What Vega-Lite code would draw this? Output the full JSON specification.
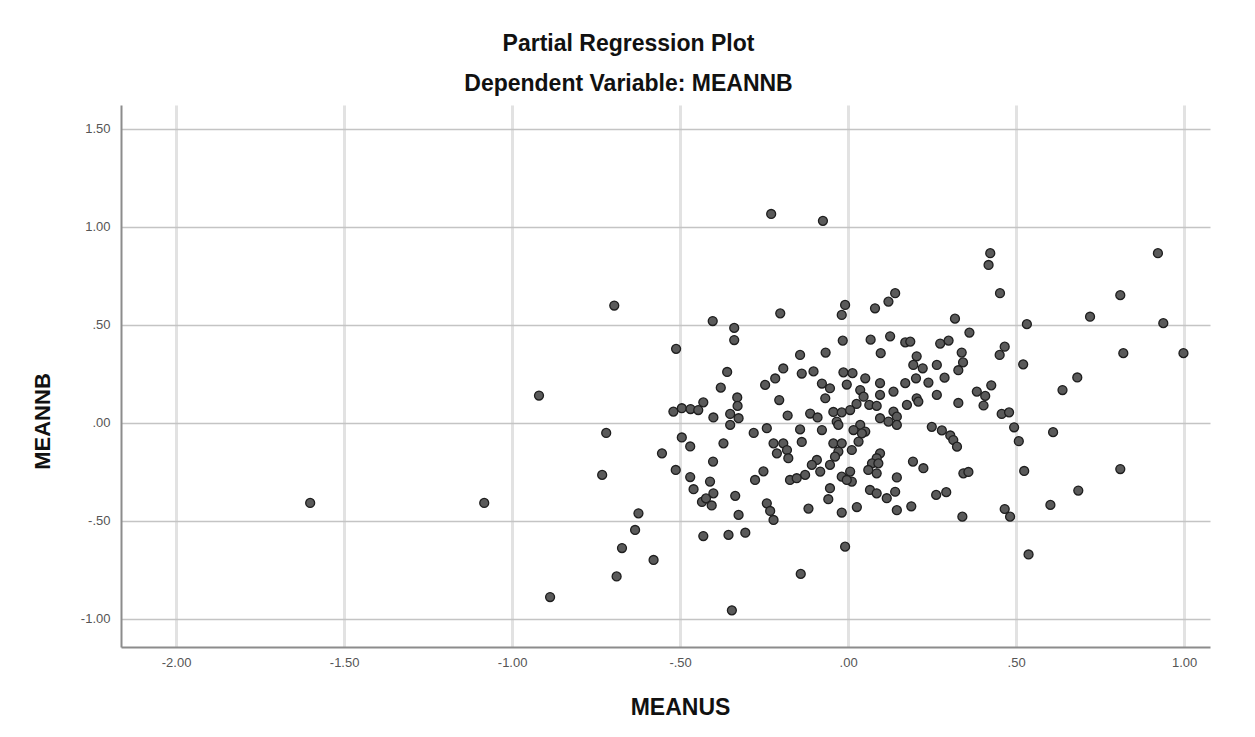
{
  "$schema": "https://vega.github.io/schema/vega-lite/v6.json",
  "width": 1089,
  "height": 542,
  "autosize": "none",
  "padding": {"left": 121, "top": 105, "right": 45, "bottom": 90},
  "background": "white",
  "title": {
    "text": "Partial Regression Plot",
    "subtitle": "Dependent Variable: MEANNB",
    "anchor": "middle",
    "dx": -37,
    "offset": 9,
    "font": "Liberation Sans",
    "fontSize": 23,
    "fontWeight": "bold",
    "color": "#111111",
    "subtitleFont": "Liberation Sans",
    "subtitleFontSize": 23,
    "subtitleFontWeight": "bold",
    "subtitleColor": "#111111",
    "subtitlePadding": 17
  },
  "config": {
    "view": {"stroke": null},
    "axis": {
      "labelFont": "Liberation Sans",
      "titleFont": "Liberation Sans"
    }
  },
  "data": {
    "values": [
      {"MEANUS": -1.601, "MEANNB": -0.408},
      {"MEANUS": -1.083, "MEANNB": -0.408},
      {"MEANUS": -0.920, "MEANNB": 0.140},
      {"MEANUS": -0.887, "MEANNB": -0.888},
      {"MEANUS": -0.732, "MEANNB": -0.265},
      {"MEANUS": -0.720, "MEANNB": -0.051},
      {"MEANUS": -0.696, "MEANNB": 0.599},
      {"MEANUS": -0.689, "MEANNB": -0.783},
      {"MEANUS": -0.673, "MEANNB": -0.638},
      {"MEANUS": -0.634, "MEANNB": -0.546},
      {"MEANUS": -0.624, "MEANNB": -0.461},
      {"MEANUS": -0.579, "MEANNB": -0.699},
      {"MEANUS": -0.554, "MEANNB": -0.155},
      {"MEANUS": -0.512, "MEANNB": 0.378},
      {"MEANUS": -0.513, "MEANNB": -0.240},
      {"MEANUS": -0.495, "MEANNB": -0.074},
      {"MEANUS": -0.470, "MEANNB": -0.120},
      {"MEANUS": -0.470, "MEANNB": -0.276},
      {"MEANUS": -0.460, "MEANNB": -0.338},
      {"MEANUS": -0.403, "MEANNB": 0.520},
      {"MEANUS": -0.339, "MEANNB": 0.485},
      {"MEANUS": -0.339, "MEANNB": 0.423},
      {"MEANUS": -0.360, "MEANNB": 0.260},
      {"MEANUS": -0.379, "MEANNB": 0.180},
      {"MEANUS": -0.330, "MEANNB": 0.130},
      {"MEANUS": -0.329, "MEANNB": 0.087},
      {"MEANUS": -0.247, "MEANNB": 0.194},
      {"MEANUS": -0.217, "MEANNB": 0.227},
      {"MEANUS": -0.229, "MEANNB": 1.066},
      {"MEANUS": -0.075, "MEANNB": 1.031},
      {"MEANUS": -0.202, "MEANNB": 0.559},
      {"MEANUS": -0.520, "MEANNB": 0.058},
      {"MEANUS": -0.495, "MEANNB": 0.075},
      {"MEANUS": -0.469, "MEANNB": 0.071},
      {"MEANUS": -0.446, "MEANNB": 0.066},
      {"MEANUS": -0.431, "MEANNB": 0.105},
      {"MEANUS": -0.401, "MEANNB": 0.028},
      {"MEANUS": -0.351, "MEANNB": 0.046},
      {"MEANUS": -0.326, "MEANNB": 0.024},
      {"MEANUS": -0.351, "MEANNB": -0.010},
      {"MEANUS": -0.371, "MEANNB": -0.104},
      {"MEANUS": -0.402, "MEANNB": -0.197},
      {"MEANUS": -0.411, "MEANNB": -0.299},
      {"MEANUS": -0.401, "MEANNB": -0.359},
      {"MEANUS": -0.435, "MEANNB": -0.403},
      {"MEANUS": -0.423, "MEANNB": -0.385},
      {"MEANUS": -0.406, "MEANNB": -0.421},
      {"MEANUS": -0.336, "MEANNB": -0.372},
      {"MEANUS": -0.277, "MEANNB": -0.291},
      {"MEANUS": -0.252, "MEANNB": -0.247},
      {"MEANUS": -0.242, "MEANNB": -0.410},
      {"MEANUS": -0.232, "MEANNB": -0.449},
      {"MEANUS": -0.222, "MEANNB": -0.495},
      {"MEANUS": -0.326, "MEANNB": -0.469},
      {"MEANUS": -0.431, "MEANNB": -0.577},
      {"MEANUS": -0.356, "MEANNB": -0.571},
      {"MEANUS": -0.306, "MEANNB": -0.560},
      {"MEANUS": -0.346, "MEANNB": -0.956},
      {"MEANUS": -0.281, "MEANNB": -0.051},
      {"MEANUS": -0.242, "MEANNB": -0.027},
      {"MEANUS": -0.222, "MEANNB": -0.104},
      {"MEANUS": -0.212, "MEANNB": -0.155},
      {"MEANUS": -0.205, "MEANNB": 0.117},
      {"MEANUS": -0.193, "MEANNB": 0.278},
      {"MEANUS": -0.143, "MEANNB": 0.347},
      {"MEANUS": -0.067, "MEANNB": 0.359},
      {"MEANUS": -0.138, "MEANNB": 0.252},
      {"MEANUS": -0.103, "MEANNB": 0.263},
      {"MEANUS": -0.078, "MEANNB": 0.201},
      {"MEANUS": -0.054, "MEANNB": 0.177},
      {"MEANUS": -0.068, "MEANNB": 0.126},
      {"MEANUS": -0.016, "MEANNB": 0.420},
      {"MEANUS": -0.009, "MEANNB": 0.602},
      {"MEANUS": -0.019, "MEANNB": 0.551},
      {"MEANUS": -0.014, "MEANNB": 0.258},
      {"MEANUS": 0.013, "MEANNB": 0.254},
      {"MEANUS": 0.051, "MEANNB": 0.228},
      {"MEANUS": -0.004, "MEANNB": 0.196},
      {"MEANUS": 0.036, "MEANNB": 0.168},
      {"MEANUS": 0.046, "MEANNB": 0.134},
      {"MEANUS": 0.025, "MEANNB": 0.097},
      {"MEANUS": 0.063, "MEANNB": 0.092},
      {"MEANUS": 0.085, "MEANNB": 0.087},
      {"MEANUS": -0.180, "MEANNB": 0.038},
      {"MEANUS": -0.113, "MEANNB": 0.048},
      {"MEANUS": -0.091, "MEANNB": 0.028},
      {"MEANUS": -0.044, "MEANNB": 0.056},
      {"MEANUS": -0.019, "MEANNB": 0.054},
      {"MEANUS": 0.006, "MEANNB": 0.066},
      {"MEANUS": -0.078, "MEANNB": -0.036},
      {"MEANUS": -0.034, "MEANNB": 0.007},
      {"MEANUS": -0.029, "MEANNB": -0.010},
      {"MEANUS": 0.036, "MEANNB": -0.010},
      {"MEANUS": 0.051, "MEANNB": -0.044},
      {"MEANUS": 0.016, "MEANNB": -0.036},
      {"MEANUS": -0.143, "MEANNB": -0.033},
      {"MEANUS": -0.138, "MEANNB": -0.097},
      {"MEANUS": -0.193, "MEANNB": -0.104},
      {"MEANUS": -0.182, "MEANNB": -0.138},
      {"MEANUS": -0.178, "MEANNB": -0.180},
      {"MEANUS": -0.044, "MEANNB": -0.104},
      {"MEANUS": -0.019, "MEANNB": -0.104},
      {"MEANUS": -0.029, "MEANNB": -0.146},
      {"MEANUS": -0.039, "MEANNB": -0.172},
      {"MEANUS": 0.011, "MEANNB": -0.138},
      {"MEANUS": 0.031, "MEANNB": -0.095},
      {"MEANUS": 0.041, "MEANNB": -0.053},
      {"MEANUS": -0.093, "MEANNB": -0.189},
      {"MEANUS": -0.108, "MEANNB": -0.214},
      {"MEANUS": -0.083, "MEANNB": -0.248},
      {"MEANUS": -0.054, "MEANNB": -0.214},
      {"MEANUS": -0.128, "MEANNB": -0.265},
      {"MEANUS": -0.173, "MEANNB": -0.291},
      {"MEANUS": -0.153, "MEANNB": -0.282},
      {"MEANUS": -0.019, "MEANNB": -0.274},
      {"MEANUS": 0.006, "MEANNB": -0.248},
      {"MEANUS": 0.011, "MEANNB": -0.299},
      {"MEANUS": -0.004, "MEANNB": -0.291},
      {"MEANUS": -0.054, "MEANNB": -0.333},
      {"MEANUS": -0.059, "MEANNB": -0.389},
      {"MEANUS": -0.118, "MEANNB": -0.437},
      {"MEANUS": -0.019, "MEANNB": -0.457},
      {"MEANUS": 0.026, "MEANNB": -0.429},
      {"MEANUS": -0.009, "MEANNB": -0.631},
      {"MEANUS": -0.141, "MEANNB": -0.770},
      {"MEANUS": 0.080, "MEANNB": 0.585},
      {"MEANUS": 0.120, "MEANNB": 0.619},
      {"MEANUS": 0.140, "MEANNB": 0.662},
      {"MEANUS": 0.067, "MEANNB": 0.425},
      {"MEANUS": 0.125, "MEANNB": 0.442},
      {"MEANUS": 0.097, "MEANNB": 0.356},
      {"MEANUS": 0.170, "MEANNB": 0.411},
      {"MEANUS": 0.185, "MEANNB": 0.415},
      {"MEANUS": 0.274, "MEANNB": 0.405},
      {"MEANUS": 0.299, "MEANNB": 0.420},
      {"MEANUS": 0.318, "MEANNB": 0.532},
      {"MEANUS": 0.338, "MEANNB": 0.359},
      {"MEANUS": 0.204, "MEANNB": 0.340},
      {"MEANUS": 0.194, "MEANNB": 0.296},
      {"MEANUS": 0.222, "MEANNB": 0.279},
      {"MEANUS": 0.264, "MEANNB": 0.296},
      {"MEANUS": 0.342, "MEANNB": 0.309},
      {"MEANUS": 0.328, "MEANNB": 0.269},
      {"MEANUS": 0.287, "MEANNB": 0.231},
      {"MEANUS": 0.202, "MEANNB": 0.228},
      {"MEANUS": 0.239, "MEANNB": 0.206},
      {"MEANUS": 0.170, "MEANNB": 0.203},
      {"MEANUS": 0.095, "MEANNB": 0.203},
      {"MEANUS": 0.095, "MEANNB": 0.143},
      {"MEANUS": 0.135, "MEANNB": 0.160},
      {"MEANUS": 0.204, "MEANNB": 0.126},
      {"MEANUS": 0.264, "MEANNB": 0.143},
      {"MEANUS": 0.328, "MEANNB": 0.102},
      {"MEANUS": 0.383, "MEANNB": 0.160},
      {"MEANUS": 0.135, "MEANNB": 0.058},
      {"MEANUS": 0.175, "MEANNB": 0.092},
      {"MEANUS": 0.145, "MEANNB": 0.032},
      {"MEANUS": 0.095, "MEANNB": 0.024},
      {"MEANUS": 0.120, "MEANNB": 0.007},
      {"MEANUS": 0.145, "MEANNB": -0.010},
      {"MEANUS": 0.209, "MEANNB": 0.109},
      {"MEANUS": 0.249, "MEANNB": -0.020},
      {"MEANUS": 0.279, "MEANNB": -0.038},
      {"MEANUS": 0.304, "MEANNB": -0.064},
      {"MEANUS": 0.313, "MEANNB": -0.087},
      {"MEANUS": 0.324, "MEANNB": -0.121},
      {"MEANUS": 0.095, "MEANNB": -0.155},
      {"MEANUS": 0.085, "MEANNB": -0.180},
      {"MEANUS": 0.071, "MEANNB": -0.206},
      {"MEANUS": 0.090, "MEANNB": -0.206},
      {"MEANUS": 0.060, "MEANNB": -0.240},
      {"MEANUS": 0.085, "MEANNB": -0.257},
      {"MEANUS": 0.193, "MEANNB": -0.197},
      {"MEANUS": 0.224, "MEANNB": -0.231},
      {"MEANUS": 0.145, "MEANNB": -0.278},
      {"MEANUS": 0.343, "MEANNB": -0.257},
      {"MEANUS": 0.358, "MEANNB": -0.250},
      {"MEANUS": 0.065, "MEANNB": -0.342},
      {"MEANUS": 0.085, "MEANNB": -0.359},
      {"MEANUS": 0.115, "MEANNB": -0.384},
      {"MEANUS": 0.140, "MEANNB": -0.351},
      {"MEANUS": 0.262, "MEANNB": -0.367},
      {"MEANUS": 0.292, "MEANNB": -0.353},
      {"MEANUS": 0.145, "MEANNB": -0.445},
      {"MEANUS": 0.188, "MEANNB": -0.425},
      {"MEANUS": 0.340, "MEANNB": -0.478},
      {"MEANUS": 0.423, "MEANNB": 0.866},
      {"MEANUS": 0.418, "MEANNB": 0.806},
      {"MEANUS": 0.922, "MEANNB": 0.866},
      {"MEANUS": 0.452, "MEANNB": 0.662},
      {"MEANUS": 0.810, "MEANNB": 0.652},
      {"MEANUS": 0.720, "MEANNB": 0.542},
      {"MEANUS": 0.532, "MEANNB": 0.504},
      {"MEANUS": 0.938, "MEANNB": 0.509},
      {"MEANUS": 0.361, "MEANNB": 0.461},
      {"MEANUS": 0.819, "MEANNB": 0.356},
      {"MEANUS": 0.998, "MEANNB": 0.356},
      {"MEANUS": 0.466, "MEANNB": 0.389},
      {"MEANUS": 0.451, "MEANNB": 0.347},
      {"MEANUS": 0.521, "MEANNB": 0.299},
      {"MEANUS": 0.682, "MEANNB": 0.232},
      {"MEANUS": 0.638, "MEANNB": 0.168},
      {"MEANUS": 0.426, "MEANNB": 0.192},
      {"MEANUS": 0.408, "MEANNB": 0.138},
      {"MEANUS": 0.403, "MEANNB": 0.089},
      {"MEANUS": 0.457, "MEANNB": 0.046},
      {"MEANUS": 0.479, "MEANNB": 0.054},
      {"MEANUS": 0.494, "MEANNB": -0.022},
      {"MEANUS": 0.508, "MEANNB": -0.093},
      {"MEANUS": 0.610, "MEANNB": -0.047},
      {"MEANUS": 0.524, "MEANNB": -0.245},
      {"MEANUS": 0.810, "MEANNB": -0.235},
      {"MEANUS": 0.685, "MEANNB": -0.345},
      {"MEANUS": 0.602, "MEANNB": -0.418},
      {"MEANUS": 0.466, "MEANNB": -0.439},
      {"MEANUS": 0.482, "MEANNB": -0.478},
      {"MEANUS": 0.537, "MEANNB": -0.671}
    ]
  },
  "mark": {
    "type": "point",
    "shape": "circle",
    "filled": true,
    "fill": "#5a5a5a",
    "stroke": "#1e1e1e",
    "strokeWidth": 1.3,
    "size": 80,
    "opacity": 1
  },
  "encoding": {
    "x": {
      "field": "MEANUS",
      "type": "quantitative",
      "scale": {"domain": [-2.164, 1.077], "nice": false, "zero": false},
      "axis": {
        "values": [-2, -1.5, -1, -0.5, 0, 0.5, 1],
        "labelExpr": "(datum.value < 0 ? '-' : '') + replace(format(abs(datum.value), '.2f'), '0.', '.')",
        "grid": true,
        "gridColor": "#e2e2e2",
        "gridWidth": 3,
        "ticks": false,
        "domainColor": "#8c8c8c",
        "domainWidth": 2,
        "labelFontSize": 13,
        "labelColor": "#555555",
        "labelPadding": 9,
        "title": "MEANUS",
        "titleFontSize": 23,
        "titleFontWeight": "bold",
        "titleColor": "#111111",
        "titleX": 559,
        "titleY": 60,
        "titleBaseline": "middle"
      }
    },
    "y": {
      "field": "MEANNB",
      "type": "quantitative",
      "scale": {"domain": [-1.143, 1.622], "nice": false, "zero": false},
      "axis": {
        "values": [-1, -0.5, 0, 0.5, 1, 1.5],
        "labelExpr": "(datum.value < 0 ? '-' : '') + replace(format(abs(datum.value), '.2f'), '0.', '.')",
        "grid": true,
        "gridColor": "#c4c4c4",
        "gridWidth": 1.5,
        "ticks": false,
        "domainColor": "#8c8c8c",
        "domainWidth": 2,
        "labelFontSize": 13,
        "labelColor": "#555555",
        "labelPadding": 11,
        "title": "MEANNB",
        "titleFontSize": 22,
        "titleFontWeight": "bold",
        "titleColor": "#111111",
        "titleX": -79,
        "titleY": 316,
        "titleAngle": 270,
        "titleAlign": "center",
        "titleBaseline": "middle"
      }
    }
  }
}
